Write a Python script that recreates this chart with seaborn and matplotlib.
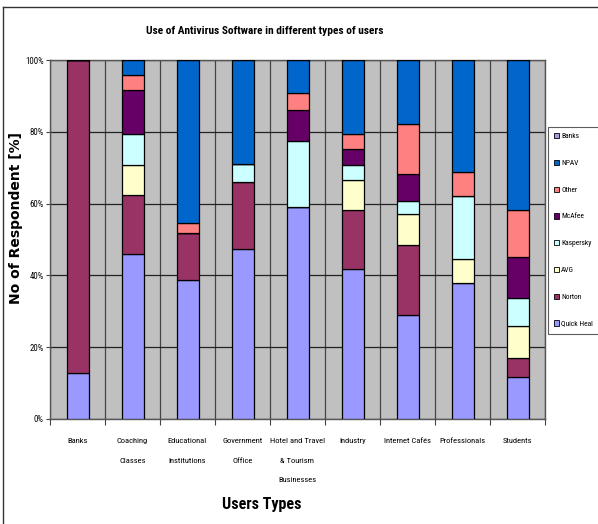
import numpy as np
import pandas as pd
import matplotlib.pyplot as plt
import seaborn as sns
from matplotlib import font_manager as fm
from matplotlib.lines import Line2D
from matplotlib.patches import Patch

# stacked shares [%] per user type, bottom to top
users = ["Banks", "Coaching\nClasses", "Educational\nInstitutions", "Government\nOffice",
         "Hotel and Travel\n& Tourism\nBusinesses", "Industry", "Internet Cafés",
         "Professionals", "Students"]
quick_heal = [12.7, 46.0, 38.7, 47.4, 59.0, 41.8, 29.0, 37.8, 11.8]
norton = [87.3, 16.4, 13.0, 18.5, 0, 16.4, 19.5, 0, 5.1]
avg = [0, 8.4, 0, 0, 0, 8.4, 8.6, 6.7, 9.1]
kaspersky = [0, 8.5, 0, 5.0, 18.4, 4.2, 3.6, 17.6, 7.6]
mcafee = [0, 12.3, 0, 0, 8.7, 4.3, 7.5, 0, 11.6]
other = [0, 4.2, 3.0, 0, 4.8, 4.2, 13.9, 6.8, 13.0]
npav = [0, 4.2, 45.3, 29.1, 9.1, 20.7, 17.9, 31.1, 41.8]
banks = [0, 0, 0, 0, 0, 0, 0, 0, 0]

series = ["Quick Heal", "Norton", "AVG", "Kaspersky", "McAfee", "Other", "NPAV", "Banks"]
values = [quick_heal, norton, avg, kaspersky, mcafee, other, npav, banks]
colors = ["#9999FF", "#993366", "#FFFFCC", "#CCFFFF", "#660066", "#FF8080", "#0066CC", "#A0A0E0"]

df = pd.DataFrame(dict(zip(series, values)), index=users)

# pick a narrow font if one is installed, otherwise shrink Liberation Sans
installed = {(f.name, f.stretch) for f in fm.fontManager.ttflist}
names = {n for n, _ in installed}
narrow = None
for fam in ["Liberation Sans Narrow", "Arial Narrow", "Roboto Condensed", "Open Sans Condensed"]:
    if fam in names:
        narrow = dict(family=[fam, "DejaVu Sans"], stretch="normal")
        break
if narrow is None and any(n == "DejaVu Sans" and s in ("condensed", "semi-condensed") for n, s in installed):
    narrow = dict(family=["DejaVu Sans"], stretch="condensed")
scale = 1.0
if narrow is None:
    narrow = dict(family=["Liberation Sans", "DejaVu Sans"], stretch="normal")
    scale = 0.82

plt.rcParams['font.family'] = narrow["family"]
plt.rcParams['font.stretch'] = narrow["stretch"]

fig = plt.figure(figsize=(5.98, 5.24), dpi=100)
ax = fig.add_axes([50 / 598, 1 - 419 / 524, 495 / 598, 359 / 524])
ax.set_facecolor("#C0C0C0")

cum = np.zeros(len(users))
for name, col in zip(series, colors):
    sns.barplot(x=users, y=df[name].values, bottom=cum, color=col, saturation=1,
                width=0.4, edgecolor="black", linewidth=0.9, ax=ax, zorder=3)
    cum = cum + df[name].values

ax.set_xlim(-0.5, len(users) - 0.5)
ax.set_ylim(0, 100)
ax.set_yticks(np.arange(0, 101, 20))
ax.set_yticklabels([f"{v}%" for v in range(0, 101, 20)], fontsize=6.3 * scale)
ax.set_xticks(np.arange(len(users)))
ax.set_xticklabels(users, fontsize=6.1 * scale, linespacing=3.7, va="top")
ax.set_xticks(np.arange(-0.5, len(users)), minor=True)
ax.tick_params(axis="x", which="major", length=0, pad=14)
ax.tick_params(axis="x", which="minor", length=4, width=0.8, color="#444")
ax.tick_params(axis="y", length=3, width=0.8, color="#444", pad=1.5)
ax.grid(True, axis="y", which="major", color="#222", linewidth=0.9, zorder=1)
ax.grid(True, axis="x", which="minor", color="#444", linewidth=0.9, zorder=1)
ax.set_axisbelow(True)
ax.set_xlabel("")
ax.set_ylabel("")
for s in ax.spines.values():
    s.set_color("#555")
    s.set_linewidth(1)

fig.text(265 / 598, 1 - 31 / 524, "Use of Antivirus Software in different types of users",
         ha="center", va="center", fontsize=8.2 * scale, fontweight="bold")
fig.text(262 / 598, 1 - 505 / 524, "Users Types", ha="center", va="center",
         fontsize=11.5 * scale, fontweight="bold")
fig.text(16 / 598, 1 - 218 / 524, "No of Respondent [%]", rotation=90, ha="center",
         va="center", fontsize=10, fontweight="heavy", family="DejaVu Sans", stretch="normal")

handles = [Patch(facecolor=c, edgecolor="black", linewidth=0.6, label=n)
           for n, c in zip(series, colors)][::-1]
leg = fig.legend(handles=handles, loc="upper left", bbox_to_anchor=(548 / 598, 1 - 127 / 524),
                 fontsize=5.4 * scale, frameon=True, fancybox=False, edgecolor="#333",
                 handlelength=0.7, handleheight=0.7, handletextpad=0.25,
                 labelspacing=2.6 / scale, borderpad=0.8, borderaxespad=0)
leg.get_frame().set_linewidth(0.8)

fig.add_artist(Line2D([3 / 598, 3 / 598], [0, 1 - 7 / 524], color="#333", lw=1))
fig.add_artist(Line2D([3 / 598, 1], [1 - 7 / 524, 1 - 7 / 524], color="#333", lw=1))

fig.savefig("out.png", dpi=100)
